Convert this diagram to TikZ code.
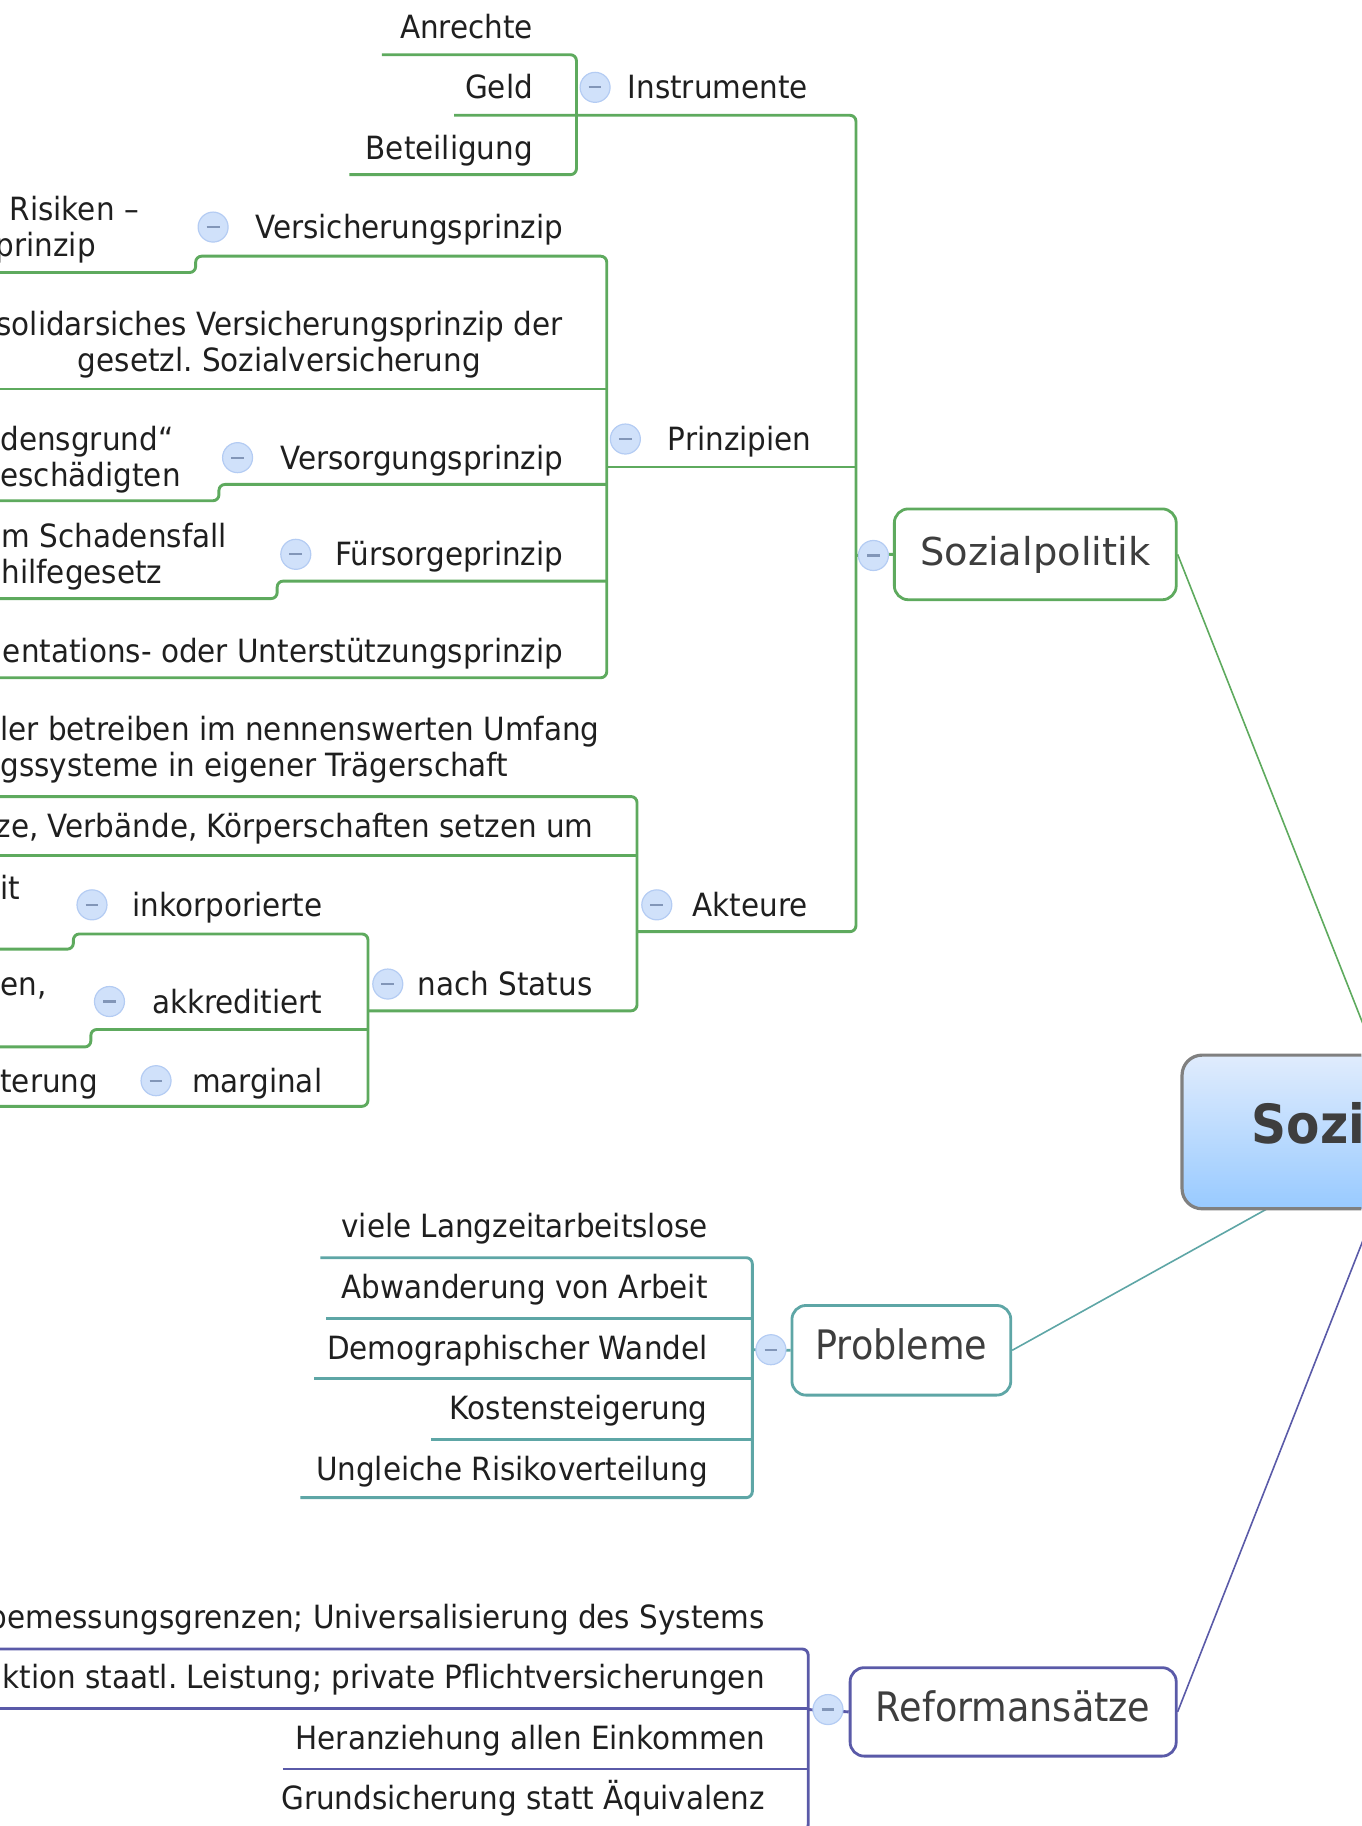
\documentclass[tikz,border=0pt]{standalone}
\usepackage{fontspec}
\setmainfont{DejaVu Sans}
\newfontfamily\leaffont[FakeStretch=0.92]{DejaVu Sans}
\newfontfamily\topicfont[FakeStretch=0.9]{DejaVu Sans}
\usetikzlibrary{backgrounds}
\frenchspacing

\definecolor{branchgreen}{RGB}{94,170,94}
\definecolor{branchteal}{RGB}{94,166,166}
\definecolor{branchblue}{RGB}{90,90,168}
\definecolor{knobfill}{RGB}{208,225,250}
\definecolor{knobline}{RGB}{180,204,243}
\definecolor{knobminus}{RGB}{130,150,184}
\definecolor{topicgrey}{RGB}{62,62,62}
\definecolor{centraltop}{RGB}{224,236,253}
\definecolor{centralbottom}{RGB}{152,202,255}
\definecolor{centralline}{RGB}{128,128,128}

\tikzset{
	leaf/.style={font=\leaffont\fontsize{16}{18}\selectfont, inner sep=0pt, text=black!88},
	knob/.style={circle, draw=knobline, fill=knobfill, line width=0.6pt, minimum size=15pt, inner sep=0pt,
		path picture={\draw[knobminus, line width=1.1pt] ([xshift=-3.2pt]path picture bounding box.center) -- ([xshift=3.2pt]path picture bounding box.center);}},
	spine/.style={line width=1.45pt, rounded corners=3pt},
	topic/.style={rounded corners=7pt, line width=1.4pt, fill=white, text=topicgrey, inner sep=0pt, text depth=0pt},
	central/.style={rounded corners=10pt, draw=centralline, line width=1.6pt, top color=centraltop, bottom color=centralbottom,
		minimum width=223.5pt, minimum height=76.8pt, text width=153.7pt, align=left, inner xsep=34.9pt, inner ysep=0pt,
		text height=1.15em, text depth=0pt, text=topicgrey, font=\topicfont\bfseries\fontsize{27}{32}\selectfont},
	connector/.style={line width=0.8pt}
}

\begin{document}
\begin{tikzpicture}[x=0.5821pt,y=0.5821pt,yscale=-1,xscale=1]
		\useasboundingbox (0,0) rectangle (1169,1568);
		\clip (0,0) rectangle (1169,1568);
		\node[central] (zentral) at (1207,972) {Sozi};
		\node[topic, draw=branchgreen, minimum width=140.9pt, minimum height=45.4pt, text height=1.08em, font=\fontsize{19.2}{23}\selectfont] (sozpol) at (889,476) {Sozialpolitik};
		\node[topic, draw=branchteal, minimum width=109.4pt, minimum height=44.8pt, text height=0.95em, font=\topicfont\fontsize{20.3}{24}\selectfont] (probleme) at (774,1159.5) {Probleme};
		\node[topic, draw=branchblue, minimum width=163pt, minimum height=44.2pt, text height=0.93em, font=\topicfont\fontsize{20.3}{24}\selectfont] (reform) at (870,1470) {Reformansätze};
		\begin{pgfonlayer}{background}
		\draw[connector, branchgreen] (zentral.center) -- (sozpol.east);
		\draw[connector, branchteal] (zentral.center) -- (probleme.east);
		\draw[connector, branchblue] (zentral.center) -- (reform.east);
		\end{pgfonlayer}
		\coordinate (sozspine) at (735,477);
		\coordinate (problspine) at (646,1159);
		\coordinate (reformspine) at (694,1468);
		\draw[spine, branchgreen] (sozspine) -- (sozpol.west);
		\draw[spine, branchteal] (problspine) -- (probleme.west);
		\draw[spine, branchblue] (reformspine) -- (reform.west);
		\draw[spine, branchgreen] (328,47) -- (495,47) -- (495,150) -- (300,150);
		\draw[spine, branchgreen] (390,99) -- (735,99) -- (735,800) -- (548,800);
		\draw[spine, branchgreen] (522,401) -- (735,401);
		\draw[spine, branchgreen] (0,234) -- (168,234) -- (168,220) -- (521,220) -- (521,582) -- (0,582);
		\draw[spine, branchgreen] (0,334) -- (521,334);
		\draw[spine, branchgreen] (0,430) -- (188,430) -- (188,416) -- (521,416);
		\draw[spine, branchgreen] (0,514) -- (238,514) -- (238,499) -- (521,499);
		\draw[spine, branchgreen] (0,684) -- (547,684) -- (547,868) -- (317,868);
		\draw[spine, branchgreen] (0,735) -- (547,735);
		\draw[spine, branchgreen] (0,815) -- (63,815) -- (63,802) -- (316,802) -- (316,950) -- (0,950);
		\draw[spine, branchgreen] (0,899) -- (78,899) -- (78,884) -- (316,884);
		\draw[spine, branchteal] (275,1080) -- (646,1080) -- (646,1286) -- (258,1286);
		\draw[spine, branchteal] (280,1132) -- (646,1132);
		\draw[spine, branchteal] (270,1184) -- (646,1184);
		\draw[spine, branchteal] (370,1236) -- (646,1236);
		\draw[spine, branchblue] (0,1416) -- (694,1416) -- (694,1572) -- (230,1572);
		\draw[spine, branchblue] (0,1467) -- (694,1467);
		\draw[spine, branchblue] (243,1519) -- (694,1519);
		\node[knob] (sozknob) at (750,477) {};
		\node[knob] (problknob) at (662,1159) {};
		\node[knob] (reformknob) at (711,1468) {};
		\node[knob] (instrknob) at (511,75) {};
		\node[knob] (prinzknob) at (537,377) {};
		\node[knob] (akteknob) at (564,777) {};
		\node[knob] (versichknob) at (183,195) {};
		\node[knob] (versorgknob) at (204,393) {};
		\node[knob] (fuersknob) at (254,476) {};
		\node[knob] (statusknob) at (333,845) {};
		\node[knob] (inkorpknob) at (79,777) {};
		\node[knob] (akkredknob) at (94,860) {};
		\node[knob] (margknob) at (134,928) {};
		\node[leaf, anchor=base east] (anrechte) at (458,33) {Anrechte};
		\node[leaf, anchor=base east] (geld) at (458,85) {Geld};
		\node[leaf, anchor=base east] (beteiligung) at (458,137) {Beteiligung};
		\node[leaf, anchor=base east] (instrumente) at (694,85) {Instrumente};
		\node[leaf, anchor=base east] (prinzipien) at (697,387) {Prinzipien};
		\node[leaf, anchor=base east] (akteure) at (694,787) {Akteure};
		\node[leaf, anchor=base west, align=left] (risiken) at (-4,220) {\hspace*{7pt}Risiken –\\prinzip};
		\node[leaf, anchor=base east] (versicherung) at (484,205) {Versicherungsprinzip};
		\node[leaf, anchor=base, align=center] (solidar) at (240,319) {solidarsiches Versicherungsprinzip der\\gesetzl. Sozialversicherung};
		\node[leaf, anchor=base west, align=left] (schadensgrund) at (0,418) {densgrund“\\eschädigten};
		\node[leaf, anchor=base east] (versorgung) at (484,403) {Versorgungsprinzip};
		\node[leaf, anchor=base west, align=left] (schadensfall) at (1,501) {m Schadensfall\\hilfegesetz};
		\node[leaf, anchor=base east] (fuersorge) at (484,486) {Fürsorgeprinzip};
		\node[leaf, anchor=base east] (unterstuetzung) at (484,569) {entations- oder Unterstützungsprinzip};
		\node[leaf, anchor=base west, align=left] (traeger) at (0,667) {ler betreiben im nennenswerten Umfang\\gssysteme in eigener Trägerschaft};
		\node[leaf, anchor=base east] (verbaende) at (510,719) {ze, Verbände, Körperschaften setzen um};
		\node[leaf, anchor=base east] (status) at (509,855) {nach Status};
		\node[leaf, anchor=base east] (inkorp) at (277,787) {inkorporierte};
		\node[leaf, anchor=base west] (inkorpdetail) at (0,772) {it};
		\node[leaf, anchor=base east] (akkred) at (277,870) {akkreditiert};
		\node[leaf, anchor=base west] (akkreddetail) at (0,855) {en,};
		\node[leaf, anchor=base east] (marginal) at (277,938) {marginal};
		\node[leaf, anchor=base west] (margdetail) at (0,938) {terung};
		\node[leaf, anchor=base east] (langzeit) at (608,1063) {viele Langzeitarbeitslose};
		\node[leaf, anchor=base east] (abwanderung) at (608,1115) {Abwanderung von Arbeit};
		\node[leaf, anchor=base east] (demografie) at (608,1167) {Demographischer Wandel};
		\node[leaf, anchor=base east] (kosten) at (608,1219) {Kostensteigerung};
		\node[leaf, anchor=base east] (risikovert) at (608,1271) {Ungleiche Risikoverteilung};
		\node[leaf, anchor=base east] (bemessung) at (657,1398) {bemessungsgrenzen; Universalisierung des Systems};
		\node[leaf, anchor=base east] (reduktion) at (657,1450) {ktion staatl. Leistung; private Pflichtversicherungen};
		\node[leaf, anchor=base east] (heranziehung) at (657,1502) {Heranziehung allen Einkommen};
		\node[leaf, anchor=base east] (grundsicherung) at (657,1554) {Grundsicherung statt Äquivalenz};
\end{tikzpicture}
\end{document}
